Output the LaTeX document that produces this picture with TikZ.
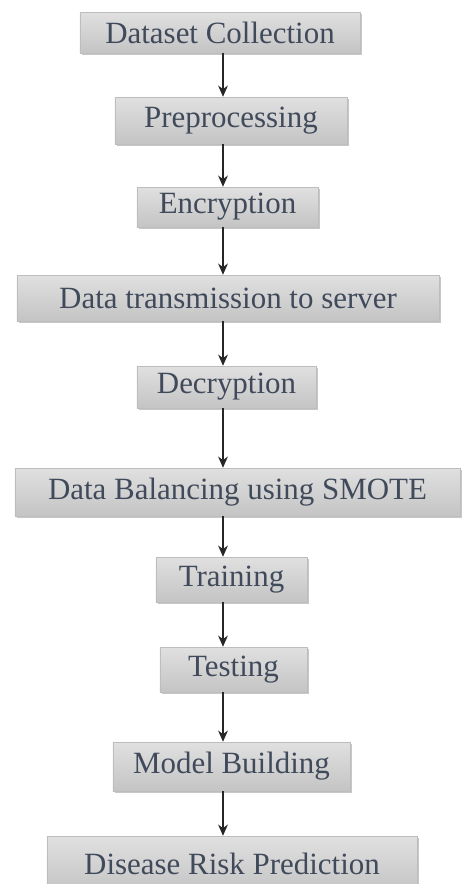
\documentclass[tikz,border=0pt]{standalone}
\usepackage{fontspec}
\setmainfont{Liberation Serif}
\usepackage{xcolor}
\definecolor{slate}{HTML}{404A5A}
\definecolor{boxtop}{HTML}{E0E0E0}
\definecolor{boxbot}{HTML}{C4C4C4}
\definecolor{boxline}{HTML}{BDBDBD}
\usepackage{tikz}
\usetikzlibrary{arrows.meta,shadows}

\begin{document}
\begin{tikzpicture}[
  x=0.025cm, y=-0.025cm,
  font=\fontsize{22}{26}\selectfont,
  stage/.style={draw=boxline, thin, top color=boxtop, bottom color=boxbot, text=slate,
                align=center, inner sep=0pt,
                drop shadow={shadow xshift=1.2pt, shadow yshift=-1.2pt, opacity=0.22, fill=black}},
  flow/.style={-{Stealth[length=8pt,width=7pt]}, black!85, line width=0.8pt}
]
  \useasboundingbox[fill=white] (0,0) rectangle (462,884);

  \node[stage, minimum width=7.0cm,   minimum height=1.025cm] (collect) at (220,32.5)  {Dataset Collection};
  \node[stage, minimum width=5.8cm,   minimum height=1.175cm] (prep)    at (231,120.5) {Preprocessing};
  \node[stage, minimum width=4.525cm, minimum height=1.0cm]   (enc)     at (227.5,207) {Encryption};
  \node[stage, minimum width=10.55cm, minimum height=1.15cm]  (trans)   at (228,298)   {Data transmission to server};
  \node[stage, minimum width=4.475cm, minimum height=1.05cm]  (dec)     at (226.5,387) {Decryption};
  \node[stage, minimum width=11.125cm,minimum height=1.2cm]   (smote)   at (237.5,492) {Data Balancing using SMOTE};
  \node[stage, minimum width=3.775cm, minimum height=1.125cm] (train)   at (231.5,579.5) {Training};
  \node[stage, minimum width=3.675cm, minimum height=1.125cm] (test)    at (233.5,669.5) {Testing};
  \node[stage, minimum width=5.925cm, minimum height=1.225cm] (model)   at (231.5,766.5) {Model Building};
  \node[stage, minimum width=9.25cm,  minimum height=1.4cm]   (risk)    at (232,864)   {Disease Risk Prediction};

  \coordinate (axis) at (223,0);

  \draw[flow] (collect.south -| axis) -- (prep.north -| axis);
  \draw[flow] (prep.south -| axis)    -- (enc.north -| axis);
  \draw[flow] (enc.south -| axis)     -- (trans.north -| axis);
  \draw[flow] (trans.south -| axis)   -- (dec.north -| axis);
  \draw[flow] (dec.south -| axis)     -- (smote.north -| axis);
  \draw[flow] (smote.south -| axis)   -- (train.north -| axis);
  \draw[flow] (train.south -| axis)   -- (test.north -| axis);
  \draw[flow] (test.south -| axis)    -- (model.north -| axis);
  \draw[flow] (model.south -| axis)   -- (risk.north -| axis);
\end{tikzpicture}
\end{document}
